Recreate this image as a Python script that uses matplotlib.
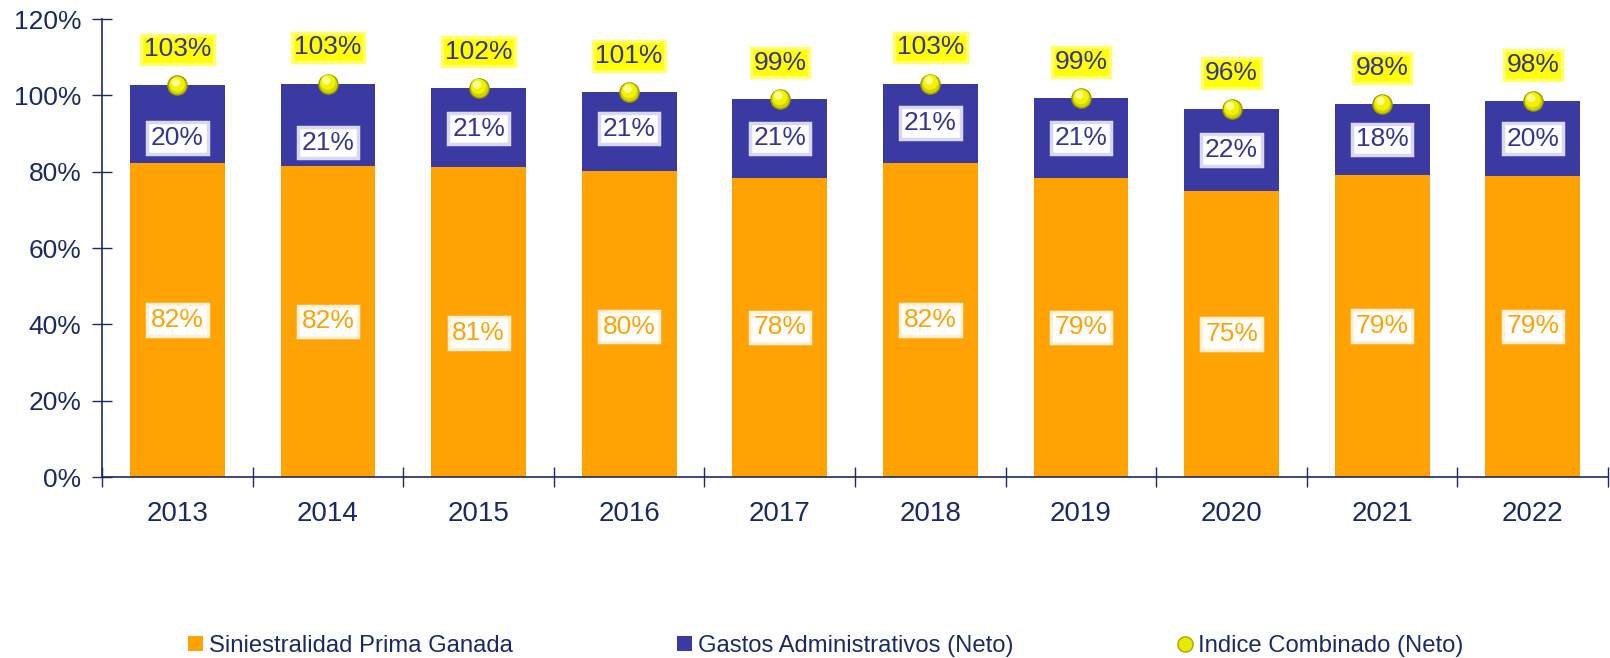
import matplotlib
matplotlib.use("Agg")
import matplotlib.pyplot as plt
from matplotlib.lines import Line2D
from matplotlib.patches import Patch
import numpy as np

years = ["2013", "2014", "2015", "2016", "2017", "2018", "2019", "2020", "2021", "2022"]
siniestralidad = [82.4, 81.6, 81.3, 80.3, 78.4, 82.4, 78.4, 74.9, 79.2, 78.9]
gastos = [20.2, 21.5, 20.7, 20.6, 20.7, 20.7, 20.9, 21.5, 18.5, 19.6]
siniestralidad_lbl = ["82%", "82%", "81%", "80%", "78%", "82%", "79%", "75%", "79%", "79%"]
gastos_lbl = ["20%", "21%", "21%", "21%", "21%", "21%", "21%", "22%", "18%", "20%"]
indice_lbl = ["103%", "103%", "102%", "101%", "99%", "103%", "99%", "96%", "98%", "98%"]

# label position nudges (in points)
sin_off = [0, 0, -8, -2, 0, 0, 0, 0, 0, 0]
gas_off = [-10, -13, -1, 2, 0, 0, 0, 0, 0, 0]

ORANGE = "#FFA304"
BLUE = "#3A3AA2"
NAVY = "#1B2A66"
LBLBLUE = "#34349A"
FONT = "Liberation Sans"

plt.rcParams["font.family"] = [FONT, "DejaVu Sans"]

fig = plt.figure(figsize=(16.1, 6.58), dpi=100)
ax = fig.add_axes([0.0634, 0.275, 0.9354, 0.696])

x = np.arange(len(years))
sin = np.array(siniestralidad)
gas = np.array(gastos)
tot = sin + gas

ax.bar(x, sin, width=0.63, color=ORANGE, zorder=2)
ax.bar(x, gas, bottom=sin, width=0.63, color=BLUE, zorder=2)

# markers (sphere-like)
ax.scatter(x, tot, s=190, color="#D2D200", edgecolors="#9A9A00", linewidths=1.0, zorder=4)
ax.scatter(x, tot + 0.35, s=120, color="#F2F200", edgecolors="none", zorder=5)
ax.scatter(x - 0.01, tot + 0.8, s=35, color="#FFFF90", edgecolors="none", zorder=6)

for i in range(len(years)):
    ax.annotate(siniestralidad_lbl[i], (x[i], sin[i] / 2), xytext=(0, sin_off[i]),
                textcoords="offset points", ha="center", va="center", fontsize=19,
                color=ORANGE, zorder=7,
                bbox=dict(boxstyle="square,pad=0.14", fc="white", ec="#FFF0D6", lw=2.5))
    ax.annotate(gastos_lbl[i], (x[i], sin[i] + gas[i] / 2), xytext=(0, gas_off[i]),
                textcoords="offset points", ha="center", va="center", fontsize=19,
                color=LBLBLUE, zorder=7,
                bbox=dict(boxstyle="square,pad=0.14", fc="white", ec="#D8D8EE", lw=2.5))
    ax.annotate(indice_lbl[i], (x[i], tot[i]), xytext=(0, 26),
                textcoords="offset points", ha="center", va="center", fontsize=19,
                color=LBLBLUE, zorder=7,
                bbox=dict(boxstyle="square,pad=0.1", fc="#FFFF00", ec="#FFFF70", lw=2.5))

ax.set_xlim(-0.5, len(years) - 0.5)
ax.set_ylim(0, 120)
ax.set_yticks(np.arange(0, 121, 20))
ax.set_yticklabels([f"{v}%" for v in range(0, 121, 20)])
ax.set_xticks(x)
ax.set_xticklabels(years)
ax.set_xticks(np.arange(-0.5, len(years)), minor=True)
ax.tick_params(axis="x", which="major", length=0, pad=17, labelsize=20, labelcolor=NAVY)
ax.tick_params(axis="x", which="minor", length=14, direction="inout", color=NAVY, width=1)
ax.tick_params(axis="y", which="major", length=14, direction="inout", color=NAVY, width=1,
               pad=8, labelsize=19, labelcolor=NAVY)

for s in ["top", "right"]:
    ax.spines[s].set_visible(False)
for s in ["left", "bottom"]:
    ax.spines[s].set_color(NAVY)
    ax.spines[s].set_linewidth(1.2)

handles = [
    Patch(facecolor=ORANGE, edgecolor="none"),
    Patch(facecolor=BLUE, edgecolor="none"),
    Line2D([], [], marker="o", linestyle="none", markersize=11, markerfacecolor="#E8E800",
           markeredgecolor="#A8A800"),
]
labels = ["Siniestralidad Prima Ganada", "Gastos Administrativos (Neto)", "Indice Combinado (Neto)"]
leg = fig.legend(handles, labels, loc="center", bbox_to_anchor=(0.513, 0.018), ncol=3,
                 frameon=False, fontsize=17.2, columnspacing=6.9, handlelength=0.6,
                 handleheight=0.6, handletextpad=0.25, borderpad=0, borderaxespad=0)
for t in leg.get_texts():
    t.set_color(NAVY)

fig.savefig("out.png", dpi=100)
